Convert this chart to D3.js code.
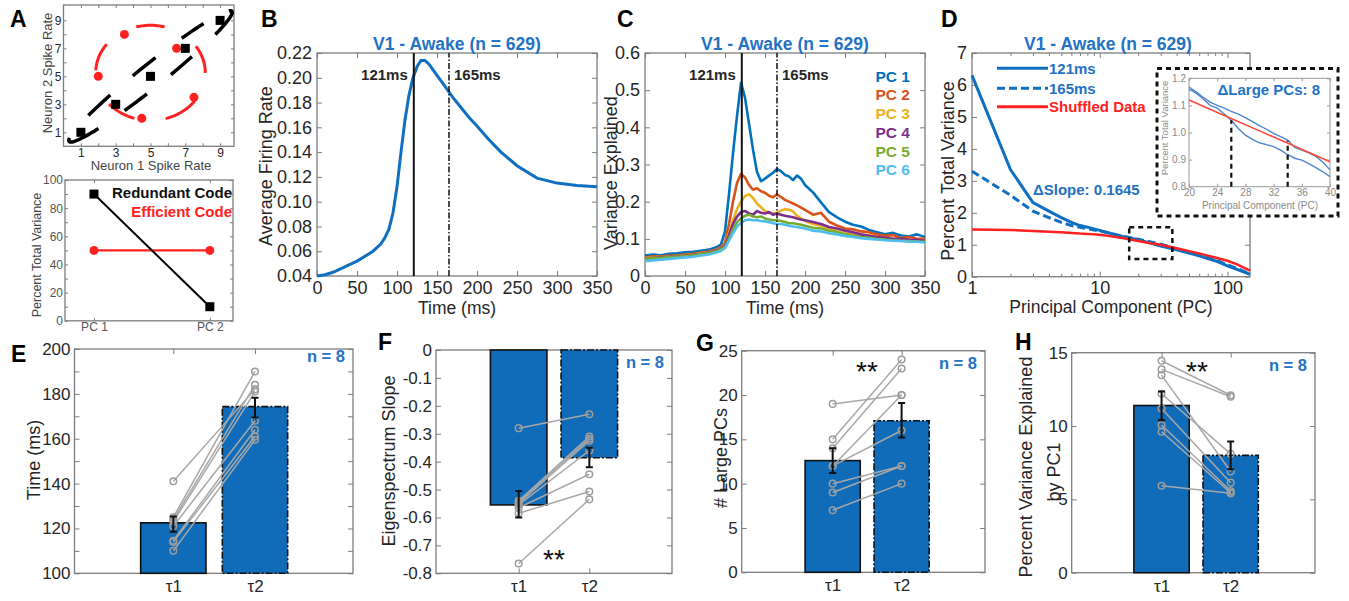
<!DOCTYPE html>
<html>
<head>
<meta charset="utf-8">
<script src="https://cdn.jsdelivr.net/npm/d3@7"></script>
<style>
  body { margin: 0; background: #fff; }
</style>
</head>
<body>
<svg id="fig" width="1349" height="601"></svg>
<script>
// ---------------- data ----------------
// A: toy two-neuron codes
const neuron1Code = [1, 3, 5, 7, 9];
const neuron2Code = [1, 3, 5, 7, 9];
const neuron1Eff = [2, 3.5, 6.5, 4.5, 7.5];
const neuron2Eff = [5, 8, 7, 2, 3.5];
const spikeTicks = [1, 2, 3, 4, 5, 6, 7, 8, 9];
// dashed outlines, as [from, to] angles (deg) along each ellipse
const redArcs = [[0, 34], [75, 106], [143, 178], [221, 254], [286, 324]];
const blackArcs = [[166, 225], [113, 133], [245, 261], [80, 96], [278, 295], [43, 62], [316, 370]];
const pcCats = [1, 2];
const pcLabels = ["PC 1", "PC 2"];
const redundantCode = [90, 10];
const efficientCode = [50, 50];
const pctTicks = [0, 10, 20, 30, 40, 50, 60, 70, 80, 90, 100];

// B: population firing rate
const tB = [0, 10, 20, 30, 40, 50, 60, 70, 80, 85, 90, 95, 100, 105, 110, 115, 120, 125, 130, 135, 140,
  150, 160, 170, 180, 190, 200, 215, 230, 250, 275, 300, 325, 350];
const rateB = [0.040, 0.041, 0.043, 0.046, 0.049, 0.052, 0.056, 0.060, 0.066, 0.071, 0.078, 0.091, 0.112,
  0.140, 0.166, 0.186, 0.200, 0.209, 0.214, 0.214, 0.211, 0.202, 0.193, 0.184, 0.176, 0.168, 0.161,
  0.150, 0.140, 0.129, 0.119, 0.115, 0.113, 0.112];
const timeTicks = [0, 50, 100, 150, 200, 250, 300, 350];
const rateTicks = [0.04, 0.06, 0.08, 0.10, 0.12, 0.14, 0.16, 0.18, 0.20, 0.22];
const markTimes = [121, 165];
const markLabels = ["121ms", "165ms"];

// C: variance explained by the first six PCs
const tC = [0, 10, 20, 30, 40, 50, 60, 70, 80, 90, 95, 100, 105, 110, 115, 120, 125, 130, 135, 140, 145,
  150, 155, 160, 165, 170, 175, 180, 185, 190, 195, 200, 210, 220, 230, 240, 250, 260, 270, 280, 290,
  300, 310, 320, 330, 340, 350];
const pc1 = [0.055, 0.058, 0.056, 0.060, 0.061, 0.064, 0.065, 0.068, 0.071, 0.078,
  0.085, 0.12, 0.22, 0.33, 0.43, 0.52, 0.48, 0.41, 0.34, 0.28, 0.255, 0.262, 0.27, 0.278, 0.288, 0.282,
  0.272, 0.268, 0.258, 0.27, 0.262, 0.245,
  0.225, 0.198, 0.172, 0.158, 0.146, 0.138, 0.133, 0.124, 0.118, 0.112, 0.116, 0.109, 0.106, 0.112, 0.105];
const pc2 = [0.050, 0.053, 0.052, 0.055, 0.056, 0.058, 0.060, 0.063, 0.066, 0.072,
  0.078, 0.09, 0.14, 0.2, 0.25, 0.275, 0.265, 0.245, 0.232, 0.236, 0.228, 0.224, 0.216, 0.212, 0.22, 0.212,
  0.205, 0.2, 0.195, 0.19, 0.184, 0.178,
  0.165, 0.17, 0.146, 0.136, 0.128, 0.126, 0.12, 0.118, 0.112, 0.108, 0.11, 0.102, 0.105, 0.1, 0.1];
const pc3 = [0.048, 0.05, 0.051, 0.052, 0.054, 0.056, 0.058, 0.061, 0.064, 0.07,
  0.075, 0.085, 0.115, 0.15, 0.18, 0.2, 0.215, 0.22, 0.21, 0.195, 0.185, 0.175, 0.17, 0.168, 0.17, 0.176,
  0.18, 0.178, 0.174, 0.162, 0.155, 0.148,
  0.14, 0.135, 0.128, 0.12, 0.115, 0.112, 0.108, 0.11, 0.105, 0.1, 0.1, 0.097, 0.098, 0.095, 0.095];
const pc4 = [0.047, 0.049, 0.05, 0.052, 0.053, 0.055, 0.057, 0.06, 0.063, 0.069,
  0.074, 0.082, 0.11, 0.14, 0.16, 0.172, 0.175, 0.168, 0.165, 0.175, 0.17, 0.168, 0.172, 0.165, 0.168, 0.165,
  0.162, 0.16, 0.158, 0.155, 0.152, 0.15,
  0.145, 0.14, 0.132, 0.128, 0.122, 0.118, 0.112, 0.108, 0.105, 0.103, 0.1, 0.1, 0.098, 0.097, 0.095];
const pc5 = [0.046, 0.048, 0.049, 0.051, 0.052, 0.054, 0.056, 0.059, 0.062, 0.067,
  0.072, 0.078, 0.1, 0.125, 0.145, 0.155, 0.162, 0.165, 0.16, 0.158, 0.16, 0.155, 0.152, 0.15, 0.15, 0.148,
  0.145, 0.142, 0.142, 0.14, 0.138, 0.135,
  0.13, 0.128, 0.122, 0.118, 0.112, 0.108, 0.105, 0.103, 0.1, 0.098, 0.096, 0.095, 0.094, 0.093, 0.092];
const pc6 = [0.04, 0.042, 0.044, 0.046, 0.048, 0.05, 0.052, 0.055, 0.058, 0.064,
  0.068, 0.075, 0.095, 0.115, 0.133, 0.143, 0.15, 0.152, 0.15, 0.15, 0.148, 0.147, 0.145, 0.142, 0.14, 0.14,
  0.138, 0.135, 0.133, 0.132, 0.13, 0.128,
  0.122, 0.12, 0.115, 0.112, 0.108, 0.105, 0.102, 0.1, 0.098, 0.096, 0.095, 0.094, 0.092, 0.092, 0.09];
const pcNames = ["PC 1", "PC 2", "PC 3", "PC 4", "PC 5", "PC 6"];
const varTicks = [0, 0.1, 0.2, 0.3, 0.4, 0.5, 0.6];

// D: eigenspectra
const pcD = [1, 2, 3, 4, 5, 6, 7, 8, 10, 12, 15, 20, 25, 30, 40, 50, 60, 70, 80, 100, 120, 150];
const var121 = [6.3, 3.35, 2.32, 2.05, 1.85, 1.7, 1.6, 1.55, 1.45, 1.36, 1.26, 1.16, 1.05, 0.96, 0.84,
  0.74, 0.65, 0.57, 0.5, 0.34, 0.22, 0.07];
const var165 = [3.3, 2.55, 2.05, 1.85, 1.7, 1.6, 1.55, 1.5, 1.43, 1.36, 1.27, 1.17, 1.09, 1.02, 0.87,
  0.77, 0.68, 0.6, 0.53, 0.37, 0.25, 0.09];
const varShuf = [1.48, 1.46, 1.43, 1.41, 1.39, 1.37, 1.35, 1.34, 1.31, 1.27, 1.21, 1.12, 1.05, 1.0, 0.89,
  0.8, 0.73, 0.66, 0.6, 0.5, 0.38, 0.19];
const legendD = ["121ms", "165ms", "Shuffled Data"];
const pcTicksD = [1, 10, 100];
const pcMinorD = [2, 3, 4, 5, 6, 7, 8, 9, 20, 30, 40, 50, 60, 70, 80, 90];
const totalTicksD = [0, 1, 2, 3, 4, 5, 6, 7];
const zoomBoxPC = [17, 37];
const zoomBoxVal = [0.55, 1.55];
// D inset
const pcInset = [20, 21, 22, 23, 24, 25, 26, 27, 28, 29, 30, 31, 32, 33, 34, 35, 36, 37, 38, 39, 40];
const in121 = [1.16, 1.145, 1.125, 1.10, 1.09, 1.068, 1.045, 1.015, 0.99, 0.975, 0.962, 0.955, 0.948,
  0.935, 0.918, 0.905, 0.898, 0.885, 0.87, 0.855, 0.837];
const in165 = [1.168, 1.15, 1.13, 1.112, 1.10, 1.09, 1.078, 1.068, 1.055, 1.04, 1.025, 1.012, 0.997,
  0.985, 0.972, 0.945, 0.935, 0.925, 0.912, 0.89, 0.862];
const pcInsetShuf = [20, 25, 30, 35, 40];
const inShuf = [1.12, 1.063, 1.006, 0.949, 0.892];
const crossPC = [26, 34];
const crossVal = [1.045, 0.97];
const insetXTicks = [20, 24, 28, 32, 36, 40];
const insetYTicks = [0.8, 0.9, 1.0, 1.1, 1.2];

// E-H: summary across n = 8 recordings
const tauLabels = ["\u03c41", "\u03c42"];
const timeMean = [122.5, 174.3], timeLo = [118.5, 169.5], timeHi = [125.3, 178.3];
const timeT1 = [141, 125, 124, 123, 121, 114.5, 114, 110];
const timeT2 = [182, 190, 184, 181, 168, 164, 161, 159.5];
const timeTicks2 = [100, 110, 120, 130, 140, 150, 160, 170, 180, 190, 200];
const slopeMean = [-0.555, -0.386], slopeLo = [-0.6, -0.42], slopeHi = [-0.505, -0.35];
const slopeT1 = [-0.28, -0.54, -0.545, -0.55, -0.555, -0.565, -0.585, -0.765];
const slopeT2 = [-0.23, -0.31, -0.318, -0.325, -0.36, -0.445, -0.507, -0.535];
const slopeTicks = [0, -0.1, -0.2, -0.3, -0.4, -0.5, -0.6, -0.7, -0.8];
const largeMean = [12.6, 17.1], largeLo = [11.2, 15.2], largeHi = [14.0, 19.1];
const largeT1 = [19, 15, 14, 12, 12, 10, 9, 7];
const largeT2 = [20, 24, 23, 20, 16, 12, 12, 10];
const largeTicks = [0, 5, 10, 15, 20, 25];
const pc1Mean = [11.4, 8.0], pc1Lo = [10.4, 7.05], pc1Hi = [12.35, 8.95];
const pc1T1 = [14.45, 13.86, 13.47, 12.2, 11.2, 10.07, 9.61, 5.93];
const pc1T2 = [12.1, 12.0, 6.9, 8.1, 6.14, 5.57, 5.45, 5.41];
const pc1Ticks = [0, 5, 10, 15];

// ---------------- drawing ----------------
const FONT = '"Liberation Sans", Arial, Helvetica, sans-serif';
const FRAME = "#7d7d7d";
const TXT = "#262626";
const BLUE = "#0f6fc0";
const TBLUE = "#2372c4";
const BAR = "#106cb9";
const RED = "#ff2020";
const pcColors = ["#0072BD", "#D95319", "#EDB120", "#7E2F8E", "#77AC30", "#4DBEEE"];

const svg = d3.select("#fig");
svg.append("rect").attr("width", 1349).attr("height", 601).attr("fill", "#fff");

function text(x, y, s, o = {}) {
  const t = svg.append("text").attr("x", x).attr("y", y).text(s)
    .attr("font-family", FONT).attr("font-size", o.fs || 18)
    .attr("font-weight", o.bold ? "bold" : "normal")
    .attr("fill", o.fill || TXT).attr("text-anchor", o.anchor || "middle");
  if (o.rot) t.attr("transform", `rotate(-90,${x},${y})`);
  return t;
}

// MATLAB-like box axes, ticks pointing inwards
function box(p) {
  const g = svg.append("g");
  const [x0, x1] = p.x.range();
  const [y0, y1] = p.y.range();
  const t = p.tick || 5;
  const none = () => "";
  const put = (axis, tx, ty) => g.append("g").attr("transform", `translate(${tx},${ty})`).call(axis);
  put(d3.axisBottom(p.x).tickValues(p.xt).tickFormat(p.xf).tickSizeInner(-t).tickSizeOuter(0).tickPadding(p.xpad ?? 5), 0, y0);
  put(d3.axisTop(p.x).tickValues(p.xt).tickFormat(none).tickSizeInner(-t).tickSizeOuter(0), 0, y1);
  put(d3.axisLeft(p.y).tickValues(p.yt).tickFormat(p.yf).tickSizeInner(-t).tickSizeOuter(0).tickPadding(p.ypad ?? 5), x0, 0);
  put(d3.axisRight(p.y).tickValues(p.yt).tickFormat(none).tickSizeInner(-t).tickSizeOuter(0), x1, 0);
  if (p.xm) {
    put(d3.axisBottom(p.x).tickValues(p.xm).tickFormat(none).tickSizeInner(-t * 0.6).tickSizeOuter(0), 0, y0);
    put(d3.axisTop(p.x).tickValues(p.xm).tickFormat(none).tickSizeInner(-t * 0.6).tickSizeOuter(0), 0, y1);
  }
  g.selectAll(".domain").remove();
  g.selectAll(".tick line").attr("stroke", p.fc || FRAME).attr("stroke-width", 1);
  g.selectAll(".tick text").attr("fill", p.tc || TXT).attr("font-size", p.fs).attr("font-family", FONT);
  g.append("rect").attr("x", x0).attr("y", y1).attr("width", x1 - x0).attr("height", y0 - y1)
    .attr("fill", "none").attr("stroke", p.fc || FRAME).attr("stroke-width", p.sw || 1.3);
  return g;
}

function lineOf(x, y, xs, ys) {
  return d3.line().x(d => x(d[0])).y(d => y(d[1]))(d3.zip(xs, ys));
}

// panel letters
[["A", 10, 26.5], ["B", 261, 26.5], ["C", 617, 26.5], ["D", 941, 26.5],
 ["E", 11, 361.5], ["F", 378, 350], ["G", 696, 350.5], ["H", 1015, 350]].forEach(([s, x, y]) =>
  text(x, y, s, { fs: 23, bold: true, anchor: "start", fill: "#000" }));

// ---- A top ----
{
  const x = d3.scaleLinear().domain([0, 9.8]).range([63.5, 234]);
  const y = d3.scaleLinear().domain([0, 10.1]).range([146.3, 5]);
  box({ x, y, xt: spikeTicks, yt: spikeTicks, xf: d => d % 2 ? d : "", yf: d => d % 2 ? d : "",
    fs: 12, tick: 3, xpad: 2, ypad: 2 });
  const arcPts = (a0, a1, f) => d3.range(a0, a1 + 0.1, 2).map(a => f(a * Math.PI / 180));
  const redEll = th => [5 + 3.15 * Math.cos(th), 5.25 + 3.4 * Math.sin(th)];
  const blkEll = th => {
    const u = 6.6 * Math.cos(th), v = 0.75 * Math.sin(th);
    return [5 + (u - v) / Math.SQRT2, 5 + (u + v) / Math.SQRT2];
  };
  const ln = d3.line().x(d => x(d[0])).y(d => y(d[1]));
  redArcs.forEach(([a, b]) => svg.append("path").attr("d", ln(arcPts(a, b, redEll)))
    .attr("fill", "none").attr("stroke", RED).attr("stroke-width", 3));
  blackArcs.forEach(([a, b]) => svg.append("path").attr("d", ln(arcPts(a, b, blkEll)))
    .attr("fill", "none").attr("stroke", "#000").attr("stroke-width", 3.5));
  svg.selectAll(null).data(d3.zip(neuron1Eff, neuron2Eff)).join("circle")
    .attr("cx", d => x(d[0])).attr("cy", d => y(d[1])).attr("r", 4.5).attr("fill", RED);
  svg.selectAll(null).data(d3.zip(neuron1Code, neuron2Code)).join("rect")
    .attr("x", d => x(d[0]) - 4.5).attr("y", d => y(d[1]) - 4.5).attr("width", 9).attr("height", 9).attr("fill", "#000");
  text(151, 170, "Neuron 1 Spike Rate", { fs: 13, fill: "#444" });
  text(52, 73, "Neuron 2 Spike Rate", { fs: 13, fill: "#444", rot: true });
}

// ---- A bottom ----
{
  const x = d3.scaleLinear().domain([0.75, 2.2]).range([65, 233]);
  const y = d3.scaleLinear().domain([0, 100]).range([320.8, 180]);
  box({ x, y, xt: pcCats, yt: pctTicks, xf: d => pcLabels[d - 1], yf: d => d % 20 ? "" : d,
    fs: 12, tick: 3, xpad: 2, ypad: 2, tc: "#555" });
  svg.append("path").attr("d", lineOf(x, y, pcCats, efficientCode)).attr("stroke", RED).attr("stroke-width", 2.2).attr("fill", "none");
  svg.append("path").attr("d", lineOf(x, y, pcCats, redundantCode)).attr("stroke", "#000").attr("stroke-width", 2).attr("fill", "none");
  pcCats.forEach((c, i) => {
    svg.append("circle").attr("cx", x(c)).attr("cy", y(efficientCode[i])).attr("r", 4.5).attr("fill", RED);
    svg.append("rect").attr("x", x(c) - 4.5).attr("y", y(redundantCode[i]) - 4.5).attr("width", 9).attr("height", 9).attr("fill", "#000");
  });
  text(232, 198, "Redundant Code", { fs: 15, bold: true, anchor: "end", fill: "#111" });
  text(232, 217, "Efficient Code", { fs: 15, bold: true, anchor: "end", fill: RED });
  text(41, 255, "Percent Total Variance", { fs: 12.5, fill: "#444", rot: true });
}

// ---- B ----
{
  const x = d3.scaleLinear().domain([0, 350]).range([317, 597]);
  const y = d3.scaleLinear().domain([0.04, 0.22]).range([276, 53]);
  box({ x, y, xt: timeTicks, yt: rateTicks, xf: d => d, yf: d3.format(".2f"), fs: 18 });
  svg.append("path").attr("d", lineOf(x, y, tB, rateB))
    .attr("fill", "none").attr("stroke", BLUE).attr("stroke-width", 3);
  markTimes.forEach((m, i) => svg.append("line").attr("x1", x(m)).attr("x2", x(m)).attr("y1", y.range()[0]).attr("y2", y.range()[1])
    .attr("stroke", "#111").attr("stroke-width", i ? 1.5 : 2).attr("stroke-dasharray", i ? "6,2,1.5,2" : null));
  text(x(markTimes[0]) - 6, 80, markLabels[0], { fs: 15, bold: true, anchor: "end" });
  text(x(markTimes[1]) + 5, 80, markLabels[1], { fs: 15, bold: true, anchor: "start" });
  text(457, 49.5, "V1 - Awake (n = 629)", { fs: 17.5, bold: true, fill: TBLUE });
  text(457, 314, "Time (ms)", { fs: 17.5 });
  text(271.5, 166, "Average Firing Rate", { fs: 18, rot: true });
}

// ---- C ----
{
  const x = d3.scaleLinear().domain([0, 350]).range([645, 925]);
  const y = d3.scaleLinear().domain([0, 0.6]).range([276, 53]);
  box({ x, y, xt: timeTicks, yt: varTicks, xf: d => d, yf: d => d === 0 ? "0" : d3.format(".1f")(d), fs: 18 });
  [pc1, pc2, pc3, pc4, pc5, pc6].forEach((s, i) => svg.append("path").attr("d", lineOf(x, y, tC, s))
    .attr("fill", "none").attr("stroke", pcColors[i]).attr("stroke-width", 2.6).attr("stroke-linejoin", "round"));
  markTimes.forEach((m, i) => svg.append("line").attr("x1", x(m)).attr("x2", x(m)).attr("y1", y.range()[0]).attr("y2", y.range()[1])
    .attr("stroke", "#111").attr("stroke-width", i ? 1.5 : 2).attr("stroke-dasharray", i ? "6,2,1.5,2" : null));
  text(x(markTimes[0]) - 6, 80, markLabels[0], { fs: 15, bold: true, anchor: "end" });
  text(x(markTimes[1]) + 5, 80, markLabels[1], { fs: 15, bold: true, anchor: "start" });
  pcNames.forEach((n, i) => text(910, 81.7 + i * 18.7, n, { fs: 15.5, bold: true, anchor: "end", fill: pcColors[i] }));
  text(785, 49.5, "V1 - Awake (n = 629)", { fs: 17.5, bold: true, fill: TBLUE });
  text(785, 314, "Time (ms)", { fs: 17.5 });
  text(617, 173, "Variance Explained", { fs: 18, rot: true });
}

// ---- D ----
{
  const x = d3.scaleLog().domain([1, 150]).range([972, 1250]);
  const y = d3.scaleLinear().domain([0, 7]).range([276.7, 53]);
  box({ x, y, xt: pcTicksD, xm: pcMinorD, yt: totalTicksD, xf: d => d, yf: d => d, fs: 18 });
  const styles = [{ c: BLUE, w: 3, d: null }, { c: BLUE, w: 3, d: "8,4" }, { c: RED, w: 2.5, d: null }];
  [var121, var165, varShuf].forEach((s, i) => svg.append("path").attr("d", lineOf(x, y, pcD, s))
    .attr("fill", "none").attr("stroke", styles[i].c).attr("stroke-width", styles[i].w).attr("stroke-dasharray", styles[i].d));
  svg.append("rect").attr("x", x(zoomBoxPC[0])).attr("y", y(zoomBoxVal[1]))
    .attr("width", x(zoomBoxPC[1]) - x(zoomBoxPC[0])).attr("height", y(zoomBoxVal[0]) - y(zoomBoxVal[1]))
    .attr("fill", "none").attr("stroke", "#111").attr("stroke-width", 2.5).attr("stroke-dasharray", "5,4");
  legendD.forEach((n, i) => {
    const ly = [68.3, 88.3, 106.7][i];
    svg.append("line").attr("x1", 997).attr("x2", 1048).attr("y1", ly).attr("y2", ly)
      .attr("stroke", styles[i].c).attr("stroke-width", 3).attr("stroke-dasharray", styles[i].d);
    text(1049, ly + 5.5, n, { fs: 15, bold: true, anchor: "start", fill: i < 2 ? TBLUE : RED });
  });
  text(1033, 195, "\u0394Slope: 0.1645", { fs: 15, bold: true, anchor: "start", fill: TBLUE });
  text(1108, 49.5, "V1 - Awake (n = 629)", { fs: 17.5, bold: true, fill: TBLUE });
  text(1111, 313, "Principal Component (PC)", { fs: 17.5 });
  text(954, 171, "Percent Total Variance", { fs: 18, rot: true });

  // inset
  svg.append("rect").attr("x", 1157).attr("y", 68.5).attr("width", 181).attr("height", 147.5)
    .attr("fill", "#fff").attr("stroke", "#111").attr("stroke-width", 3).attr("stroke-dasharray", "5,4");
  const xi = d3.scaleLinear().domain([20, 40]).range([1189, 1330]);
  const yi = d3.scaleLinear().domain([0.8, 1.2]).range([186.7, 78.3]);
  box({ x: xi, y: yi, xt: insetXTicks, yt: insetYTicks, xf: d => d, yf: d3.format(".1f"),
    fs: 10, tick: 3, xpad: 2, ypad: 3, tc: "#8a8a8a", fc: "#9a9a9a", sw: 1 });
  [in121, in165].forEach(s => svg.append("path").attr("d", lineOf(xi, yi, pcInset, s))
    .attr("fill", "none").attr("stroke", "#4f86cf").attr("stroke-width", 1.4));
  svg.append("path").attr("d", lineOf(xi, yi, pcInsetShuf, inShuf))
    .attr("fill", "none").attr("stroke", "#ff4a3a").attr("stroke-width", 1.6);
  crossPC.forEach((c, i) => svg.append("line").attr("x1", xi(c)).attr("x2", xi(c)).attr("y1", yi(0.8)).attr("y2", yi(crossVal[i]))
    .attr("stroke", "#111").attr("stroke-width", 2.2).attr("stroke-dasharray", "5,4"));
  text(1320, 95, "\u0394Large PCs: 8", { fs: 15, bold: true, anchor: "end", fill: TBLUE });
  text(1260, 209, "Principal Component (PC)", { fs: 10, fill: "#8a8a8a" });
  text(1168, 128, "Percent Total Variance", { fs: 9.5, fill: "#8a8a8a", rot: true });
}

// ---- E-H bar panels ----
function barPanel(c) {
  const x = d3.scaleLinear().domain(c.xd).range(c.xr);
  const y = d3.scaleLinear().domain(c.yd).range(c.yr);
  box({ x, y, xt: [1, 2], yt: c.yt, xf: d => tauLabels[d - 1], yf: c.yf, fs: 17, xpad: 7, ypad: 4 });
  const w = x(1.4) - x(1);
  c.mean.forEach((m, i) => {
    const y0 = y(c.base), y1 = y(m);
    svg.append("rect").attr("x", x(i + 1) - w).attr("y", Math.min(y0, y1)).attr("width", 2 * w).attr("height", Math.abs(y0 - y1))
      .attr("fill", BAR).attr("stroke", "#111").attr("stroke-width", 1.6).attr("stroke-dasharray", i ? "7,2,2,2" : null);
  });
  c.t1.forEach((v, k) => svg.append("line").attr("x1", x(1)).attr("y1", y(v)).attr("x2", x(2)).attr("y2", y(c.t2[k]))
    .attr("stroke", "#a8a8a8").attr("stroke-width", 1.5));
  [c.t1, c.t2].forEach((arr, i) => svg.selectAll(null).data(arr).join("circle")
    .attr("cx", x(i + 1)).attr("cy", d => y(d)).attr("r", 3.3)
    .attr("fill", "none").attr("stroke", "#9d9d9d").attr("stroke-width", 1.5));
  c.mean.forEach((m, i) => {
    const cx = x(i + 1);
    svg.append("path").attr("d", `M${cx - 3.5},${y(c.lo[i])}H${cx + 3.5}M${cx},${y(c.lo[i])}V${y(c.hi[i])}M${cx - 3.5},${y(c.hi[i])}H${cx + 3.5}`)
      .attr("stroke", "#111").attr("stroke-width", 2).attr("fill", "none");
  });
  text(c.xr[1] - 8, c.nY, "n = 8", { fs: 16.5, bold: true, anchor: "end", fill: TBLUE });
  if (c.star) text(c.star[0], c.star[1], "**", { fs: 28, fill: "#111" });
  c.ylab.forEach(([s, bx, cy]) => text(bx, cy, s, { fs: 18, rot: true }));
}

barPanel({ xd: [-0.21, 3.2], xr: [74.5, 353], yd: [100, 200], yr: [573.3, 349], base: 100,
  yt: timeTicks2, yf: d => d % 20 ? "" : d, mean: timeMean, lo: timeLo, hi: timeHi, t1: timeT1, t2: timeT2,
  nY: 362, ylab: [["Time (ms)", 40, 460]] });
barPanel({ xd: [-0.17, 3.17], xr: [436, 672], yd: [-0.8, 0], yr: [573.3, 350], base: 0,
  yt: slopeTicks, yf: d => d === 0 ? "0" : d.toFixed(1), mean: slopeMean, lo: slopeLo, hi: slopeHi, t1: slopeT1, t2: slopeT2,
  nY: 368, star: [554, 569], ylab: [["Eigenspectrum Slope", 395, 461]] });
barPanel({ xd: [-0.32, 3.21], xr: [741.7, 985], yd: [0, 25], yr: [572.3, 350.7], base: 0,
  yt: largeTicks, yf: d => d, mean: largeMean, lo: largeLo, hi: largeHi, t1: largeT1, t2: largeT2,
  nY: 369, star: [867, 381], ylab: [["# Large PCs", 727, 458]] });
barPanel({ xd: [-0.3, 3.22], xr: [1071.7, 1315], yd: [0, 15], yr: [572.7, 352.7], base: 0,
  yt: pc1Ticks, yf: d => d, mean: pc1Mean, lo: pc1Lo, hi: pc1Hi, t1: pc1T1, t2: pc1T2,
  nY: 371, star: [1197, 381], ylab: [["Percent Variance Explained", 1032, 467], ["by PC1", 1060, 472]] });
</script>
</body>
</html>
